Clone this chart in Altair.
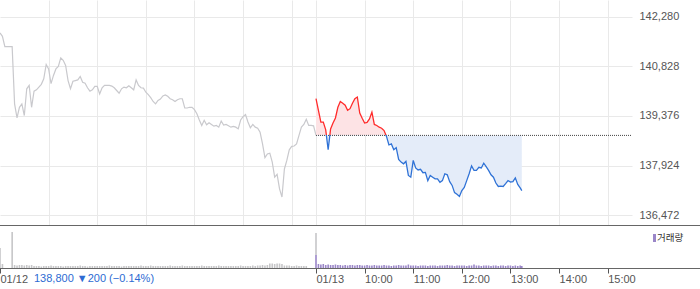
import altair as alt
import pandas as pd

BASE = 138810  # reference (previous close) level, dotted line

# ---- 01/12 : price every 3 minutes from 09:00 to 15:30 ----
day1_price = [141800, 141700, 141400, 141400, 141400, 141400, 139730, 139320, 139630, 139730,
              139390, 140170, 140270, 139630, 140100, 140140, 140220, 140300, 140460, 140880,
              140750, 140320, 140560, 140750, 140820, 141070, 141000, 140850, 140410, 140170,
              140390, 140410, 140430, 140530, 140360, 140330, 140200, 140100, 140140, 140240,
              140240, 140020, 140200, 140270, 140270, 140270, 140250, 140200, 140120, 140040,
              140170, 140220, 140200, 140260, 140200, 140140, 140430, 140270, 140200, 140190,
              140070, 140000, 139910, 139800, 139730, 139830, 139870, 139960, 139990, 139950,
              139880, 139850, 139800, 139850, 139880, 139880, 139610, 139610, 139630, 139630,
              139560, 139440, 139260, 139100, 139250, 139120, 139180, 139130, 139080, 139100,
              139050, 139230, 139110, 139130, 139090, 139050, 139070, 139050, 139000, 139260,
              139360, 139420, 139200, 139030, 139130, 139050, 139020, 138900, 138560, 138160,
              138270, 138290, 138030, 137590, 137670, 137250, 137010, 137830, 138080, 138390,
              138490, 138500, 138560, 138810, 139050, 139130, 139280, 139100, 139100, 139090,
              138810]
day1_vol = [40, 8, 0, 0, 0, 72, 6, 5, 6, 6,
            5, 6, 5, 6, 4, 4, 4, 3, 4, 4,
            4, 5, 4, 4, 4, 4, 3, 4, 4, 4,
            4, 4, 4, 5, 4, 4, 3, 4, 4, 4,
            4, 4, 4, 4, 4, 5, 4, 4, 4, 4,
            3, 4, 4, 4, 4, 4, 4, 4, 5, 4,
            4, 4, 5, 4, 4, 4, 4, 4, 4, 4,
            5, 4, 4, 4, 4, 5, 4, 4, 4, 4,
            4, 4, 4, 5, 4, 4, 4, 4, 4, 4,
            5, 4, 4, 4, 4, 4, 4, 4, 4, 5,
            4, 4, 4, 4, 5, 4, 5, 5, 6, 5,
            6, 9, 9, 8, 9, 9, 8, 5, 5, 5,
            4, 4, 5, 4, 4, 4, 4, 0, 0, 0,
            44]
day1_min = [3 * i for i in range(len(day1_price))]

# ---- 01/13 : price every 3 minutes from 09:00 ----
day2_price = [139880, 139540, 139200, 139200, 138970, 138390, 139000, 139170, 139320, 139630,
              139800, 139750, 139690, 139540, 139590, 139750, 139880, 139930, 139460, 139310,
              139170, 139190, 139290, 139490, 139130, 139100, 139050, 139020, 138950, 138780,
              138530, 138560, 138390, 138450, 138110, 138030, 137980, 138050, 137640, 137590,
              138080, 137860, 137800, 137820, 137720, 137730, 137490, 137640, 137590, 137540,
              137540, 137440, 137490, 137690, 137660, 137460, 137350, 137140, 137090, 137030,
              137200, 137290, 137490, 137690, 137920, 137790, 137790, 137880, 137860, 138000,
              137900, 137790, 137660, 137590, 137420, 137320, 137330, 137320, 137400, 137490,
              137450, 137460, 137570, 137380, 137280, 137200]
day2_vol = [26, 8, 7, 8, 6, 7, 6, 6, 7, 6,
            6, 5, 6, 5, 6, 6, 5, 6, 6, 5,
            5, 6, 5, 5, 6, 5, 5, 5, 6, 5,
            5, 4, 5, 5, 6, 5, 5, 5, 7, 5,
            5, 5, 4, 5, 5, 5, 4, 5, 5, 5,
            4, 5, 5, 5, 6, 5, 5, 4, 5, 5,
            5, 5, 4, 5, 5, 7, 5, 5, 4, 5,
            5, 5, 4, 5, 5, 4, 5, 5, 4, 5,
            5, 4, 5, 4, 5, 4]
day2_min = [3 * i for i in range(len(day2_price) - 1)] + [254]

y_ticks = [136472, 137924, 139376, 140828, 142280]
x_tick_vals = [0, 390, 450, 510, 570, 630, 690, 750]
x_tick_labels = ["01/12", "01/13", "10:00", "11:00", "12:00", "13:00", "14:00", "15:00"]
grid_vals = [60, 120, 180, 240, 300, 360, 390, 450, 510, 570, 630, 690, 750]
status_text = "138,800 ▼200 (−0.14%)"
legend_text = "거래량"

FONT = "Liberation Sans"
GRID = "#e9e9e9"

d1 = pd.DataFrame({"t": day1_min, "price": day1_price})
d2 = pd.DataFrame({"t": [390 + m for m in day2_min], "price": day2_price})
vol = pd.DataFrame({
    "t": day1_min + [390 + m for m in day2_min],
    "vol": day1_vol + day2_vol,
    "day": ["01/12"] * len(day1_vol) + ["01/13"] * len(day2_vol),
})

xs = alt.Scale(domain=[0, 780], nice=False, zero=False, padding=0)
ys = alt.Scale(domain=[136194.7, 142761.6], nice=False, zero=False, padding=0)

x_axis_top = alt.Axis(values=grid_vals, grid=True, gridColor=GRID, labels=False,
                      ticks=False, domain=False, title=None)
y_axis = alt.Axis(orient="right", values=y_ticks, format=",d", grid=True, gridColor=GRID,
                  domain=False, ticks=False, labelPadding=7, labelColor="#555",
                  labelFontSize=11, labelFont=FONT, title=None)

def X():
    return alt.X("t:Q", scale=xs, axis=x_axis_top)

def Y():
    return alt.Y("price:Q", scale=ys, axis=y_axis)

pmax, pmin = max(day2_price), min(day2_price)
f = (pmax - BASE) / (pmax - pmin)

def grad(c_up, c_dn):
    return {"gradient": "linear", "x1": 0, "y1": 0, "x2": 0, "y2": 1,
            "stops": [{"offset": 0, "color": c_up}, {"offset": f, "color": c_up},
                      {"offset": f, "color": c_dn}, {"offset": 1, "color": c_dn}]}

one = pd.DataFrame({"a": [0]})

gray_line = alt.Chart(d1).mark_line(color="#c9c9cd", strokeWidth=1.2, clip=True).encode(
    x=X(), y=Y())
area2 = alt.Chart(d2).mark_area(fill=grad("#fde3e5", "#e4ecf9"), opacity=1).encode(
    x=X(), y=Y(), y2=alt.datum(BASE))
base_rule = alt.Chart(one).mark_rule(color="#444", strokeDash=[1, 1], strokeWidth=1).encode(
    x=alt.datum(390), x2=alt.datum(780), y=alt.datum(BASE))
line2 = alt.Chart(d2).mark_line(stroke=grad("#ff2b2b", "#2f72d6"), strokeWidth=1.3).encode(
    x=X(), y=Y())
sep = alt.Chart(one).mark_rect(color="#666").encode(
    x=alt.value(0), x2=alt.value(700), y=alt.value(225), y2=alt.value(226))

top = alt.layer(gray_line, area2, base_rule, line2, sep).properties(width=632, height=225)

label_expr = "{" + ",".join(f"'{v}':'{l}'" for v, l in zip(x_tick_vals, x_tick_labels)) + "}[datum.value]"
x_axis_bot = alt.Axis(values=x_tick_vals, labelExpr=label_expr, grid=False, domain=False,
                      ticks=True, tickSize=5, tickColor="#555", labelAlign="left",
                      labelPadding=0, labelColor="#555", labelFontSize=11, labelFont=FONT,
                      labelFlush=False, labelOverlap=False, title=None)

bars = alt.Chart(vol).mark_bar(width=1.6, clip=True).encode(
    x=alt.X("t:Q", scale=xs, axis=x_axis_bot),
    y=alt.Y("vol:Q", scale=alt.Scale(domain=[0, 84], nice=False, padding=0), axis=None),
    color=alt.Color("day:N", scale=alt.Scale(domain=["01/12", "01/13"],
                                             range=["#c6c6c8", "#9a86c8"]), legend=None),
)
bottom_line = alt.Chart(one).mark_rect(color="#666").encode(
    x=alt.value(0), x2=alt.value(700), y=alt.value(42), y2=alt.value(43))
status = alt.Chart(one).mark_text(align="left", baseline="middle", fontSize=11, font=FONT,
                                  color="#2d6bd3").encode(
    x=alt.value(34), y=alt.value(53), text=alt.value(status_text))
leg_sym = alt.Chart(one).mark_rect(color="#9a86c8").encode(
    x=alt.value(653), x2=alt.value(656), y=alt.value(8), y2=alt.value(16))
leg_txt = alt.Chart(one).mark_text(align="left", baseline="middle", fontSize=9.5,
                                   font="Noto Sans CJK KR", color="#333").encode(
    x=alt.value(657), y=alt.value(12), text=alt.value(legend_text))

bottom = alt.layer(bars, bottom_line, status, leg_sym, leg_txt).properties(width=632, height=42)

chart = alt.vconcat(top, bottom, spacing=1, bounds="flush").properties(
    padding={"left": -1, "top": 0, "right": 0, "bottom": 0},
    background="white",
).configure_view(stroke=None)

chart.save("out.html", embed_options={"renderer": "svg", "actions": False})
